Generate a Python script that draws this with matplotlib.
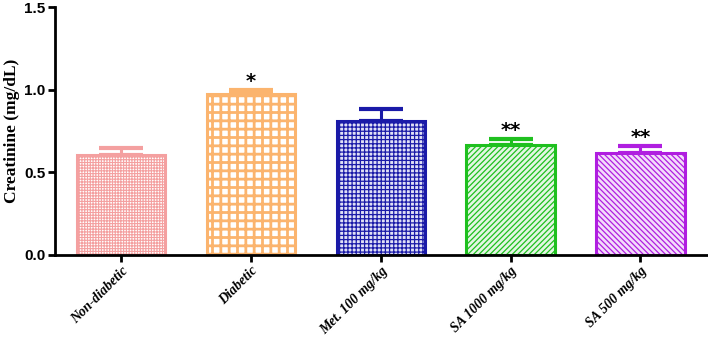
import matplotlib.pyplot as plt
import numpy as np

plt.rcParams['font.family'] = 'Liberation Serif'
plt.rcParams['font.weight'] = 'bold'

# data
groups = ['Non-diabetic', 'Diabetic', 'Met. 100 mg/kg', 'SA 1000 mg/kg', 'SA 500 mg/kg']
means = [0.605, 0.972, 0.812, 0.668, 0.618]
sems = [0.040, 0.025, 0.070, 0.032, 0.040]
stars = ['', '*', '', '**', '**']

colors = ['#f4a0a0', '#fbb46e', '#1a1aa8', '#1fc01f', '#b01ee0']
faces = ['#ffffff', '#ffffff', '#e0e0f6', '#e4f6e4', '#f3dcfb']
hatches = ['++++++', '++', '++++', '//////', '\\\\\\\\\\\\']
hatch_lw = [0.8, 2.0, 0.9, 0.9, 0.9]

fig = plt.figure(figsize=(7.08, 3.38), dpi=100)
ax = fig.add_axes([0.078, 0.246, 0.921, 0.733])

x = np.arange(len(groups))
for i in range(len(groups)):
    with plt.rc_context({'hatch.linewidth': hatch_lw[i]}):
        ax.bar(x[i], means[i], width=0.68, color=faces[i], edgecolor=colors[i],
               hatch=hatches[i], linewidth=2.2, zorder=2)
    ax.errorbar(x[i], means[i], yerr=[[0], [sems[i]]], fmt='none', ecolor=colors[i],
                elinewidth=2.2, capsize=16, capthick=3, zorder=1)
    if stars[i]:
        ax.text(x[i], means[i] + sems[i] - 0.005, stars[i], ha='center', va='bottom',
                fontsize=14, fontweight='bold', family='DejaVu Sans')

ax.set_xlim(-0.508, 4.515)
ax.set_ylim(0, 1.5)
ax.set_yticks([0.0, 0.5, 1.0, 1.5])
ax.set_yticklabels(['0.0', '0.5', '1.0', '1.5'], family='Liberation Sans',
                   fontweight='bold', fontsize=11)
ax.set_xticks(x)
ax.set_xticklabels(groups, rotation=45, ha='right', rotation_mode='anchor',
                   fontstyle='italic', fontweight='bold', fontsize=10)
ax.set_ylabel('Creatinine (mg/dL)', fontsize=12.5, fontweight='bold', labelpad=3)

for s in ['top', 'right']:
    ax.spines[s].set_visible(False)
for s in ['left', 'bottom']:
    ax.spines[s].set_linewidth(2)
ax.tick_params(width=2, length=5, direction='out', pad=2)

fig.savefig('out.png', dpi=100)
